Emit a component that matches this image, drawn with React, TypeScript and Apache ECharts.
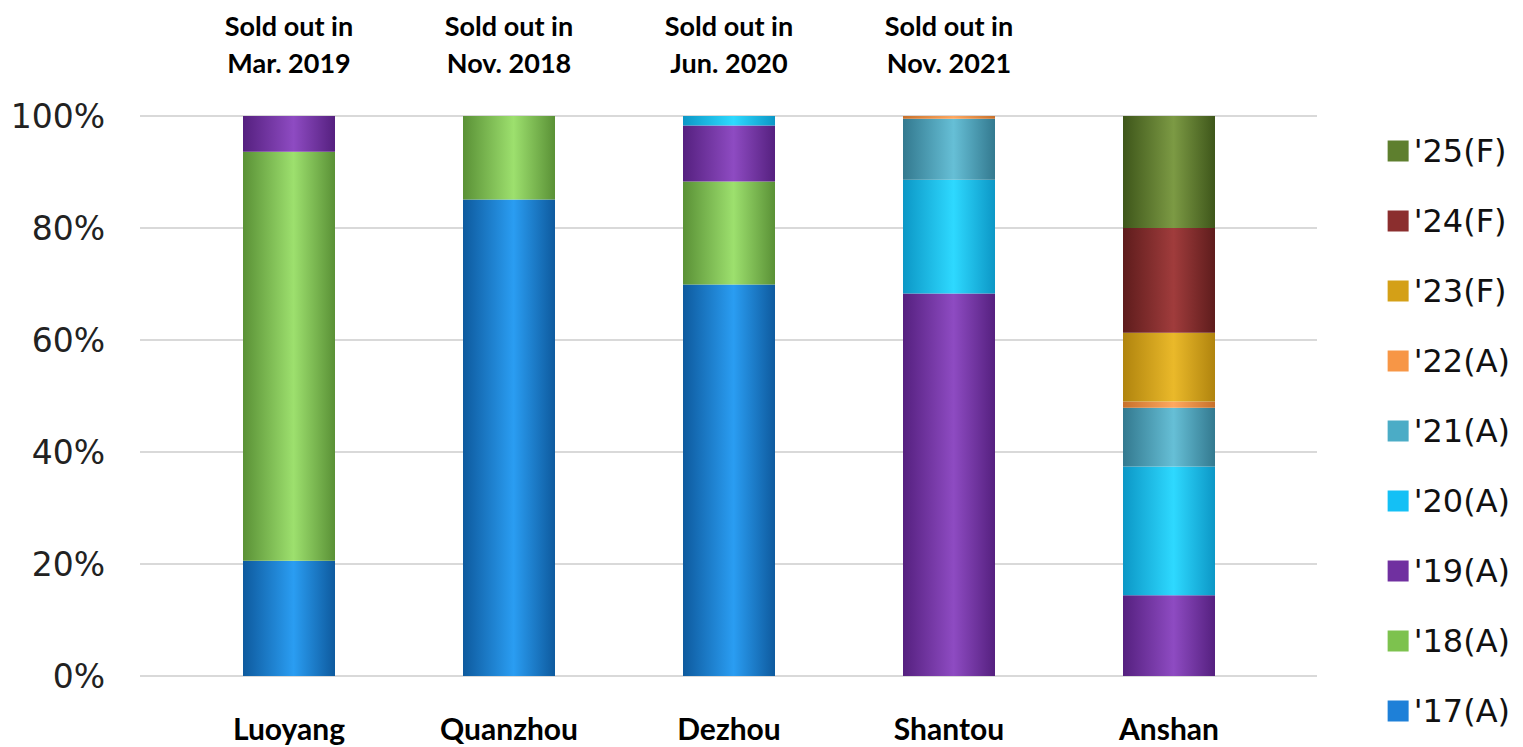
import React, { useEffect, useRef } from "react";
import * as echarts from "echarts";

const cities = ["Luoyang", "Quanzhou", "Dezhou", "Shantou", "Anshan"];
const soldOut = ["Sold out in\nMar. 2019", "Sold out in\nNov. 2018", "Sold out in\nJun. 2020", "Sold out in\nNov. 2021", ""];
const yTicks = [0, 20, 40, 60, 80, 100];

const years = ["'17(A)", "'18(A)", "'19(A)", "'20(A)", "'21(A)", "'22(A)", "'23(F)", "'24(F)", "'25(F)"];
const v17 = [20.6, 85.1, 69.9, 0, 0];
const v18 = [73.0, 14.9, 18.4, 0, 0];
const v19 = [6.4, 0, 10.0, 68.3, 14.4];
const v20 = [0, 0, 1.7, 20.3, 23.0];
const v21 = [0, 0, 0, 10.9, 10.5];
const v22 = [0, 0, 0, 0.5, 1.1];
const v23 = [0, 0, 0, 0, 12.3];
const v24 = [0, 0, 0, 0, 18.7];
const v25 = [0, 0, 0, 0, 20.0];
const values = [v17, v18, v19, v20, v21, v22, v23, v24, v25];

// [flat, dark edge, light centre]
const palette = [
  ["#1E80D8", "#0E5A9E", "#2A9DF2"],
  ["#7DC24E", "#5A9136", "#9DE06E"],
  ["#7030A0", "#55207F", "#8E4BC2"],
  ["#14C0F5", "#0C97C6", "#2ED9FF"],
  ["#4BACC6", "#33798F", "#66BFD6"],
  ["#F79646", "#C8702A", "#FFA860"],
  ["#D4A017", "#B0840E", "#EAB92A"],
  ["#8B2E2E", "#5E1C1C", "#A03C3C"],
  ["#5E7F2E", "#3E561A", "#7C9A44"],
];

function grad(i: number) {
  const p = palette[i];
  return {
    type: "linear",
    x: 0,
    y: 0,
    x2: 1,
    y2: 0,
    colorStops: [
      { offset: 0, color: p[1] },
      { offset: 0.55, color: p[2] },
      { offset: 1, color: p[1] },
    ],
  };
}

export default function App() {
  const ref = useRef<HTMLDivElement>(null);
  useEffect(() => {
    const chart = echarts.init(ref.current!, null, { renderer: "svg" });
    const series = years.map((name, i) => ({
      name,
      type: "bar",
      stack: "total",
      xAxisIndex: 1,
      yAxisIndex: 1,
      barWidth: 92,
      data: values[i],
      itemStyle: { color: grad(i) },
      emphasis: { disabled: true },
    }));
    chart.setOption({
      animation: false,
      backgroundColor: "#ffffff",
      grid: [
        { left: 140, right: 206, top: 116, bottom: 71 },
        { left: 179, right: 244, top: 116, bottom: 71 },
      ],
      legend: {
        orient: "vertical",
        right: 8,
        top: 130,
        icon: "rect",
        itemWidth: 21,
        itemHeight: 21,
        itemGap: 38,
        textStyle: { fontFamily: "DejaVu Sans", fontSize: 32, color: "#111", padding: [0, 0, 0, 0] },
        data: years
          .map((name, i) => ({ name, itemStyle: { color: palette[i][0] } }))
          .reverse(),
      },
      xAxis: [
        {
          type: "category",
          gridIndex: 0,
          data: cities,
          show: false,
        },
        {
          type: "category",
          gridIndex: 1,
          data: cities,
          axisLine: { show: false },
          axisTick: { show: false },
          axisLabel: {
            margin: 37,
            fontFamily: "Lato",
            fontWeight: "bold",
            fontSize: 30,
            lineHeight: 30,
            color: "#000",
          },
        },
        {
          type: "category",
          gridIndex: 1,
          position: "top",
          data: soldOut,
          axisLine: { show: false },
          axisTick: { show: false },
          axisLabel: {
            margin: 35,
            fontFamily: "Lato",
            fontWeight: "bold",
            fontSize: 27,
            lineHeight: 37,
            color: "#000",
          },
        },
      ],
      yAxis: [
        {
          type: "value",
          gridIndex: 0,
          min: 0,
          max: 100,
          interval: 20,
          axisLine: { show: false },
          axisTick: { show: false },
          splitLine: { lineStyle: { color: "#D9D9D9", width: 2 } },
          axisLabel: {
            margin: 35,
            fontFamily: "DejaVu Sans",
            fontSize: 33,
            color: "#222",
            formatter: (v: number) => (yTicks.includes(v) ? v + "%" : ""),
          },
        },
        {
          type: "value",
          gridIndex: 1,
          min: 0,
          max: 100,
          interval: 20,
          show: false,
          splitLine: { show: false },
        },
      ],
      series,
    });
    return () => chart.dispose();
  }, []);
  return (
    <div
      ref={ref}
      style={{ position: "fixed", left: 0, top: 0, width: 1523, height: 747 }}
    />
  );
}
